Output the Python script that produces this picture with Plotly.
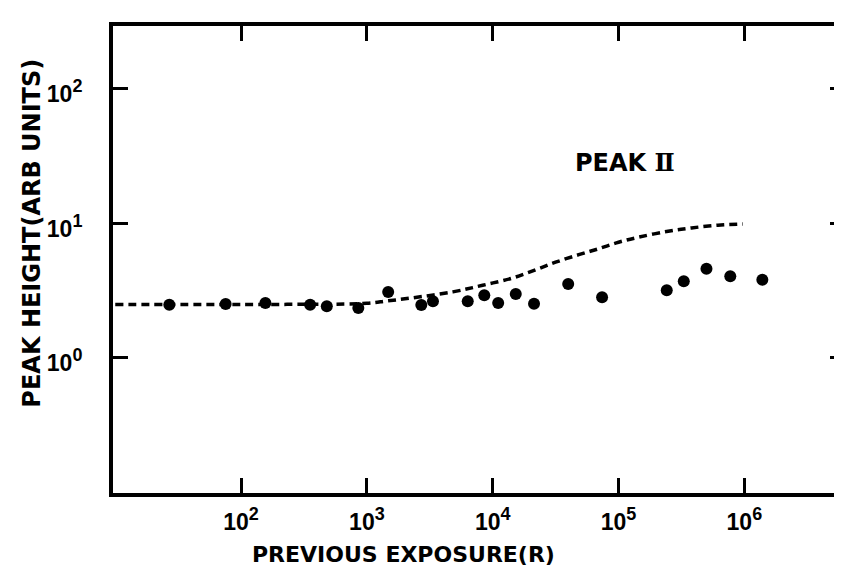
import plotly.graph_objects as go

# Dashed model curve (previous exposure in R, peak height in arb. units)
curve_exposure = [10, 100, 1000, 1430, 2255, 4820, 8320, 14360, 21980, 31600,
                  48300, 69500, 100000, 144000, 248000, 380000, 617000, 973000]
curve_height = [2.50, 2.50, 2.55, 2.65, 2.79, 3.10, 3.47, 3.93, 4.53, 5.15,
                5.86, 6.49, 7.25, 7.90, 8.75, 9.26, 9.70, 9.92]

# Measured points
point_exposure = [26.9, 75.4, 156, 354, 480, 855, 1476, 2706, 3350, 6330, 8570,
                  11050, 15250, 21300, 39800, 74000, 241700, 330000, 500000,
                  773000, 1390000]
point_height = [2.49, 2.52, 2.56, 2.49, 2.42, 2.35, 3.09, 2.48, 2.64, 2.64, 2.93,
                2.56, 2.99, 2.53, 3.55, 2.83, 3.19, 3.72, 4.61, 4.05, 3.82]

x_tickvals = [1e2, 1e3, 1e4, 1e5, 1e6]
x_exponents = ["2", "3", "4", "5", "6"]
y_tickvals = [1, 10, 100]
y_exponents = ["0", "1", "2"]


def power_label(exp):
    return "10<sup><span style='font-size:18px'>" + exp + "</span></sup>"


x_ticktext = [power_label(e) for e in x_exponents]
y_ticktext = [power_label(e) for e in y_exponents]

TITLE_FONT = "DejaVu Sans"
TICK_FONT = "Liberation Sans Narrow, Liberation Sans"
tickfont = dict(family=TICK_FONT, size=23, color="black", weight="bold")
titlefont = dict(family=TITLE_FONT, size=24, color="black", weight="bold")

fig = go.Figure()
fig.add_trace(go.Scatter(
    x=curve_exposure, y=curve_height, mode="lines",
    line=dict(color="black", width=3.5, dash="8px,5px", shape="spline"),
    hoverinfo="skip"))
fig.add_trace(go.Scatter(
    x=point_exposure, y=point_height, mode="markers",
    marker=dict(color="black", size=12)))

axis_common = dict(
    ticks="inside", ticklen=15, tickwidth=3, tickcolor="black",
    showline=True, linewidth=4, linecolor="black", mirror="ticks",
    showgrid=False, zeroline=False, tickfont=tickfont)

fig.update_xaxes(type="log", range=[0.982, 6.80], tickvals=x_tickvals,
                 ticktext=x_ticktext, ticklabelstandoff=5, **axis_common)
fig.update_yaxes(type="log", range=[-1.004, 2.468], tickvals=y_tickvals,
                 ticktext=y_ticktext, ticklabelstandoff=22, ticklabelshift=5,
                 **axis_common)

fig.add_annotation(text="PREVIOUS EXPOSURE(R)", xref="paper", yref="paper",
                   x=0.397, y=-0.131, xanchor="center", yanchor="middle",
                   showarrow=False,
                   font=dict(family=TITLE_FONT, size=22, color="black", weight="bold"))
fig.add_annotation(text="PEAK HEIGHT(ARB UNITS)", xref="paper", yref="paper",
                   x=-0.111, y=0.557, xanchor="center", yanchor="middle",
                   textangle=-90, showarrow=False, font=titlefont)
fig.add_annotation(text="PEAK <span style='font-family:DejaVu Serif'>Ⅱ</span>",
                   x=5.05, y=1.45, xref="x", yref="y",
                   showarrow=False, font=titlefont)

fig.update_layout(width=842, height=568,
                  margin=dict(l=105, r=1, t=18, b=83),
                  plot_bgcolor="white", paper_bgcolor="white",
                  showlegend=False)

fig.write_html("out.html")
